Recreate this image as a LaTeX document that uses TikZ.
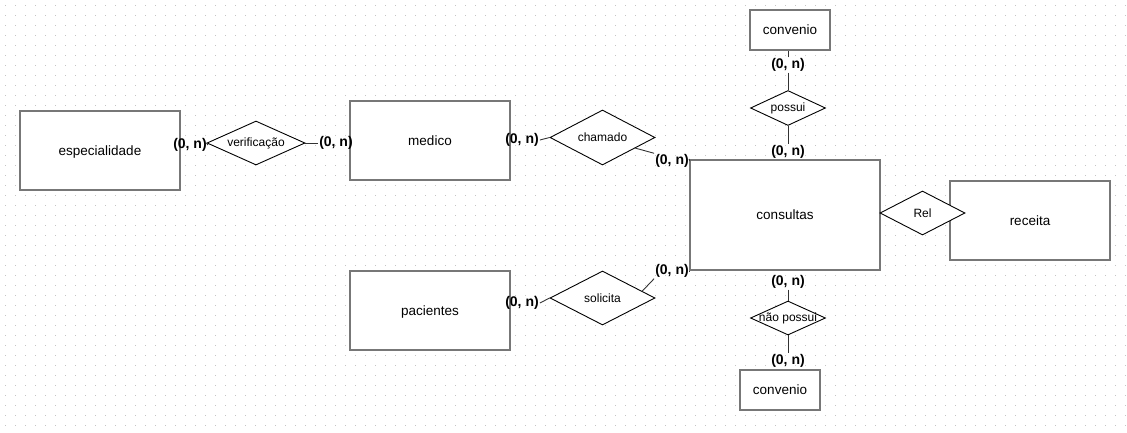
\documentclass[tikz,border=0pt]{standalone}
\usepackage{fontspec}
\setmainfont{Liberation Sans}
\usetikzlibrary{shapes.geometric,calc}
\definecolor{gridcol}{HTML}{C4C4C4}
\definecolor{boxcol}{HTML}{777777}

\begin{document}
\begin{tikzpicture}[x=1pt,y=-1pt,
		entity/.style={draw=boxcol,line width=2pt,fill=white,inner sep=0pt,text depth=0pt,font=\fontsize{13.5}{15}\selectfont},
		relation/.style={diamond,draw,line width=0.9pt,fill=white,aspect=2.3,inner sep=0pt,font=\fontsize{12}{14}\selectfont},
		card/.style={inner sep=1pt,font=\fontsize{14}{16}\selectfont\bfseries},
		link/.style={draw=black!80,line width=0.9pt}]
	\useasboundingbox (0,0) rectangle (1127,432);
	\fill[white] (0,0) rectangle (1127,432);
	\foreach \y in {5,15,...,425}
		\draw[gridcol,line width=1pt,dash pattern=on 1pt off 9pt,dash phase=-5pt] (0,\y) -- (1127,\y);

	\node[entity,minimum width=160,minimum height=79] (especialidade) at (100,150.5) {especialidade};
	\node[entity,minimum width=160,minimum height=79] (medico) at (430,140.5) {medico};
	\node[entity,minimum width=160,minimum height=79] (pacientes) at (430,310.5) {pacientes};
	\node[entity,minimum width=190,minimum height=110] (consultas) at (785,215) {consultas};
	\node[entity,minimum width=160,minimum height=79] (receita) at (1030,220.5) {receita};
	\node[entity,minimum width=80,minimum height=40] (convenioA) at (790,30) {convenio};
	\node[entity,minimum width=80,minimum height=40] (convenioB) at (780,390) {convenio};

	\node[relation,minimum width=98,minimum height=44] (verificacao) at (256,143) {verificação};
	\node[relation,minimum width=105,minimum height=55] (chamado) at (602.5,137.5) {chamado};
	\node[relation,minimum width=105,minimum height=54] (solicita) at (602.5,298) {solicita};
	\node[relation,minimum width=85,minimum height=44] (rel) at (922.5,213) {Rel};
	\node[relation,minimum width=75,minimum height=35] (possui) at (788,108) {possui};
	\node[relation,minimum width=75,minimum height=34,inner sep=-3pt] (naopossui) at (788,318) {não possui};

	\node[card] (c1) at (190,145) {(0, n)};
	\node[card] (c2) at (336,143) {(0, n)};
	\node[card] (c3) at (522,140) {(0, n)};
	\node[card] (c4) at (672,161) {(0, n)};
	\node[card] (c5) at (788,65) {(0, n)};
	\node[card] (c6) at (788,152) {(0, n)};
	\node[card] (c7) at (522,303) {(0, n)};
	\node[card] (c8) at (672,271) {(0, n)};
	\node[card] (c9) at (788,282) {(0, n)};
	\node[card] (c10) at (788,361) {(0, n)};

	\draw[link] (c1.east) -- (verificacao.west);
	\draw[link] (verificacao.east) -- (c2.west);
	\draw[link] (c3.east) -- (chamado.west);
	\draw[link] ($(chamado.east)!0.38!(chamado.south)$) -- (c4.north west);
	\draw[link] (c4.east) -- (consultas.north west);
	\draw[link] (c5.north) -- (c5.north |- convenioA.south);
	\draw[link] (c5.south) -- (possui.north);
	\draw[link] (possui.south) -- (c6.north);
	\draw[link] (c7.east) -- (solicita.west);
	\draw[link] ($(solicita.east)!0.25!(solicita.north)$) -- (c8.south west);
	\draw[link] (c8.east) -- (consultas.south west);
	\draw[link] (c9.south) -- (naopossui.north);
	\draw[link] (naopossui.south) -- (c10.north);
\end{tikzpicture}
\end{document}
